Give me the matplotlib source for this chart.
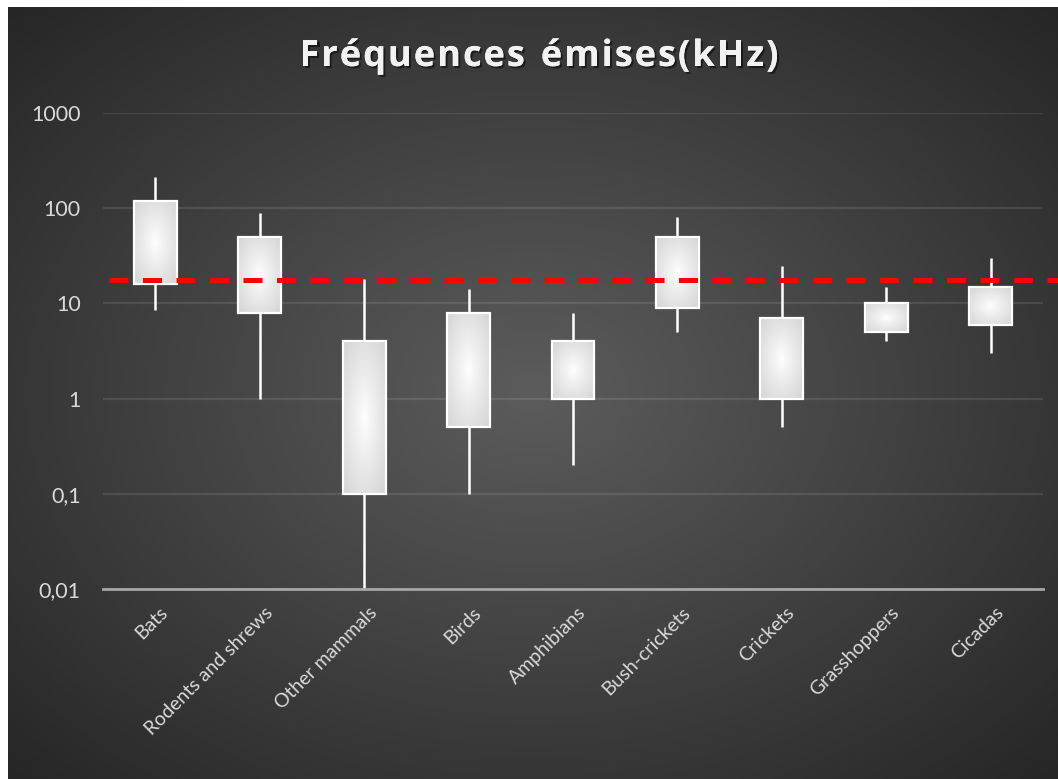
import numpy as np
import matplotlib
matplotlib.use('Agg')
import matplotlib.pyplot as plt
from matplotlib.patches import Rectangle
from matplotlib.ticker import NullLocator, FixedLocator
import matplotlib.patheffects as pe
import matplotlib.transforms as mtrans

# ---------------- data ----------------
categories = ['Bats', 'Rodents and shrews', 'Other mammals', 'Birds', 'Amphibians',
              'Bush-crickets', 'Crickets', 'Grasshoppers', 'Cicadas']
low = [8.5, 1, 0.01, 0.1, 0.2, 5, 0.5, 4, 3]
box_low = [16, 8, 0.1, 0.5, 1, 9, 1, 5, 6]
box_high = [120, 50, 4, 8, 4, 50, 7, 10, 15]
high = [215, 90, 18, 14, 8, 80, 25, 15, 30]
threshold = 17.5
yticks = [0.01, 0.1, 1, 10, 100, 1000]
ytick_labels = ['0,01', '0,1', '1', '10', '100', '1000']
title = 'Fréquences émises(kHz)'

W, H = 1058, 779
fig = plt.figure(figsize=(W / 100, H / 100), dpi=100)
fig.patch.set_facecolor('white')

# ---------------- background radial gradient ----------------
bg = fig.add_axes([8 / W, 0, 1 - 8 / W, 1 - 7 / H])
yy, xx = np.mgrid[0:1:400j, 0:1:600j]
r = np.sqrt(((xx - 0.5) / 0.5) ** 2 + ((yy - 0.5) / 0.5) ** 2) / np.sqrt(2)
r = np.clip(r, 0, 1)
c_center, c_edge = 92 / 255, 38 / 255
v = c_center + (c_edge - c_center) * r
img = np.dstack([v, v, v])
bg.imshow(img, extent=[0, 1, 0, 1], aspect='auto', interpolation='bilinear')
bg.set_xlim(0, 1)
bg.set_ylim(0, 1)
bg.axis('off')

# ---------------- main axes ----------------
ax = fig.add_axes([103 / W, 1 - 589 / H, 940 / W, 476 / H])
ax.patch.set_alpha(0)
ax.set_yscale('log')
ax.set_autoscale_on(False)
ax.set_xlim(-0.5, len(categories) - 0.5)
ax.set_ylim(0.01, 1000)

ax.yaxis.set_major_locator(FixedLocator(yticks))
ax.yaxis.set_minor_locator(NullLocator())
ax.set_yticklabels(ytick_labels)
ax.yaxis.grid(True, color='white', alpha=0.1, lw=1.6)
ax.set_axisbelow(True)

for s in ['top', 'right', 'left']:
    ax.spines[s].set_visible(False)
ax.spines['bottom'].set_color('#a6a6a6')
ax.spines['bottom'].set_linewidth(2)
ax.spines['bottom'].set_zorder(6)

font = 'Lato'
ax.tick_params(axis='both', length=0, colors='#d9d9d9')
ax.tick_params(axis='y', pad=16, labelsize=15.5)
ax.tick_params(axis='x', labelsize=14)
for lab in ax.get_yticklabels():
    lab.set_fontfamily(font)

x = np.arange(len(categories))
ax.set_xticks(x)
ax.set_xticklabels(categories, rotation=45, ha='right', va='top',
                   rotation_mode='anchor', fontfamily=font)
offset = mtrans.ScaledTranslation(4 / 100, -10 / 100, fig.dpi_scale_trans)
for lab in ax.get_xticklabels():
    lab.set_transform(lab.get_transform() + offset)

# whiskers
ax.vlines(x, low, high, colors='white', lw=1.8, zorder=2)

# boxes with radial gradient
half = 0.205
gy, gx = np.mgrid[-1:1:200j, -1:1:200j]
gr = np.clip(np.sqrt(gx ** 2 + gy ** 2) / np.sqrt(2), 0, 1)
gv = 1.0 + (212 / 255 - 1.0) * gr ** 0.9
grad = np.dstack([gv, gv, gv])
to_axes = ax.transData + ax.transAxes.inverted()
for i in range(len(categories)):
    (ax0, ay0), (ax1, ay1) = to_axes.transform([(x[i] - half, box_low[i]),
                                                (x[i] + half, box_high[i])])
    ax.imshow(grad, extent=[ax0, ax1, ay0, ay1], transform=ax.transAxes,
              aspect='auto', zorder=3, interpolation='bilinear')
    ax.add_patch(Rectangle((x[i] - half, box_low[i]), 2 * half,
                           box_high[i] - box_low[i], facecolor='none',
                           edgecolor='white', lw=1.6, zorder=4))
ax.set_xlim(-0.5, len(categories) - 0.5)
ax.set_ylim(0.01, 1000)

# threshold line
ax.plot([-0.44, 8.65], [threshold, threshold], color='#ff0000', lw=3.6,
        dashes=(3.8, 2.9), solid_capstyle='butt', dash_capstyle='butt',
        clip_on=False, zorder=5)

# title (letter-spaced, drawn char by char)
fig.canvas.draw()
renderer = fig.canvas.get_renderer()
tprops = dict(fontsize=26, fontweight='bold', color='#f2f2f2', fontfamily='Open Sans',
              va='center', ha='left',
              path_effects=[pe.withSimplePatchShadow(offset=(1.5, -1.5), alpha=0.5,
                                                     shadow_rgbFace='black'),
                            pe.Normal()])
spacing_px = 2.0
widths = []
for ch in title:
    t = fig.text(0, 0, ch if ch != ' ' else 'a', **tprops)
    bb = t.get_window_extent(renderer)
    w = bb.width if ch != ' ' else bb.width * 0.55
    t.remove()
    widths.append(w)
total = sum(widths) + spacing_px * (len(title) - 1)
cx, cy = 539, H - 57
xpos = cx - total / 2
for ch, w in zip(title, widths):
    if ch != ' ':
        fig.text(xpos / W, cy / H, ch, **tprops)
    xpos += w + spacing_px

fig.savefig('out.png', dpi=100)
